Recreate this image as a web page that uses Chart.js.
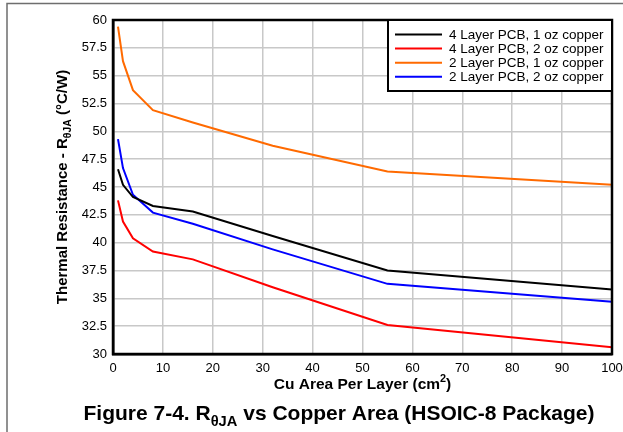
<!DOCTYPE html>
<html lang="en">
<head>
    <meta charset="UTF-8">
    <title>Thermal Resistance vs Copper Area</title>
    <script src="https://cdn.jsdelivr.net/npm/chart.js"></script>
    <style>
        html, body {
            margin: 0;
            padding: 0;
            background: #fff;
        }
        #chartBox {
            position: relative;
            width: 623px;
            height: 432px;
        }
    </style>
</head>
<body>
    <div id="chartBox">
        <canvas id="rjaChart" width="623" height="432"></canvas>
    </div>

    <script>
        // copper area per layer (cm2)
        const cuArea = [1, 2, 4, 8, 16, 32, 55, 100];

        // thermal resistance (degC/W)
        const fourLayer1oz = [46.6, 45.2, 44.1, 43.3, 42.8, 40.6, 37.5, 35.8];
        const fourLayer2oz = [43.8, 41.9, 40.4, 39.2, 38.5, 36.0, 32.6, 30.6];
        const twoLayer1oz = [59.4, 56.3, 53.7, 51.9, 50.8, 48.7, 46.4, 45.2];
        const twoLayer2oz = [49.3, 46.7, 44.3, 42.7, 41.7, 39.4, 36.3, 34.7];

        const seriesNames = [
            '4 Layer PCB, 1 oz copper',
            '4 Layer PCB, 2 oz copper',
            '2 Layer PCB, 1 oz copper',
            '2 Layer PCB, 2 oz copper'
        ];
        const seriesColors = ['#000000', '#ff0000', '#ff6a00', '#0000ff'];

        const FONT = '"Liberation Sans", Arial, Helvetica, sans-serif';

        function toPoints(values) {
            return cuArea.map((x, i) => ({ x: x, y: values[i] }));
        }

        // draws text with sub/superscript parts, centred on x
        function drawRich(ctx, parts, x, y, size) {
            let total = 0;
            parts.forEach(p => {
                const s = p.sub || p.sup ? size * 0.7 : size;
                ctx.font = 'bold ' + s + 'px ' + FONT;
                p.w = ctx.measureText(p.t).width;
                p.s = s;
                total += p.w;
            });
            let cx = x - total / 2;
            ctx.textAlign = 'left';
            ctx.textBaseline = 'alphabetic';
            parts.forEach(p => {
                ctx.font = 'bold ' + p.s + 'px ' + FONT;
                let dy = 0;
                if (p.sub) dy = size * 0.28;
                if (p.sup) dy = -size * 0.42;
                ctx.fillText(p.t, cx, y + dy);
                cx += p.w;
            });
        }

        const figurePlugin = {
            id: 'figurePlugin',
            beforeDraw(chart) {
                const ctx = chart.ctx;
                ctx.save();
                ctx.fillStyle = '#fff';
                ctx.fillRect(0, 0, chart.width, chart.height);
                // outer frame of the figure
                ctx.strokeStyle = '#6e6e6e';
                ctx.lineWidth = 1.5;
                ctx.beginPath();
                ctx.moveTo(7, chart.height + 2);
                ctx.lineTo(7, 3.5);
                ctx.lineTo(chart.width + 2, 3.5);
                ctx.stroke();
                ctx.restore();
            },
            afterDraw(chart) {
                const ctx = chart.ctx;
                const area = chart.chartArea;
                ctx.save();

                // plot border
                ctx.strokeStyle = '#000';
                ctx.lineWidth = 2.5;
                ctx.strokeRect(area.left, area.top, area.right - area.left, area.bottom - area.top);

                // legend box in the top right corner
                const lx = 388, ly = area.top;
                const lw = area.right - lx, lh = 71;
                ctx.fillStyle = '#fff';
                ctx.fillRect(lx, ly, lw, lh);
                ctx.lineWidth = 2;
                ctx.strokeRect(lx, ly, lw, lh);
                ctx.font = '13.5px ' + FONT;
                ctx.textAlign = 'left';
                ctx.textBaseline = 'middle';
                chart.data.datasets.forEach((ds, i) => {
                    const yy = ly + 14.5 + i * 14.1;
                    ctx.strokeStyle = ds.borderColor;
                    ctx.lineWidth = 2;
                    ctx.beginPath();
                    ctx.moveTo(395, yy);
                    ctx.lineTo(442, yy);
                    ctx.stroke();
                    ctx.fillStyle = '#000';
                    ctx.fillText(ds.label, 449, yy + 0.5);
                });

                ctx.fillStyle = '#000';
                // x axis title
                drawRich(ctx, [
                    { t: 'Cu Area Per Layer (cm' },
                    { t: '2', sup: true },
                    { t: ')' }
                ], (area.left + area.right) / 2, 389, 15.5);

                // y axis title
                ctx.save();
                ctx.translate(67, (area.top + area.bottom) / 2);
                ctx.rotate(-Math.PI / 2);
                drawRich(ctx, [
                    { t: 'Thermal Resistance - R' },
                    { t: '\u03B8JA', sub: true },
                    { t: ' (\u00B0C/W)' }
                ], 0, 0, 15);
                ctx.restore();

                // figure caption
                drawRich(ctx, [
                    { t: 'Figure 7-4. R' },
                    { t: '\u03B8JA', sub: true },
                    { t: ' vs Copper Area (HSOIC-8 Package)' }
                ], 339, 420, 21);

                ctx.restore();
            }
        };

        const ctx = document.getElementById('rjaChart').getContext('2d');
        const chart = new Chart(ctx, {
            type: 'line',
            data: {
                datasets: [fourLayer1oz, fourLayer2oz, twoLayer1oz, twoLayer2oz].map((vals, i) => ({
                    label: seriesNames[i],
                    data: toPoints(vals),
                    borderColor: seriesColors[i],
                    backgroundColor: seriesColors[i],
                    borderWidth: 2,
                    pointRadius: 0,
                    tension: 0,
                    fill: false
                }))
            },
            options: {
                responsive: false,
                animation: false,
                layout: {
                    padding: { left: 0, top: 20, right: 11, bottom: 0 }
                },
                plugins: {
                    legend: { display: false },
                    tooltip: { enabled: false }
                },
                scales: {
                    x: {
                        type: 'linear',
                        min: 0,
                        max: 100,
                        ticks: {
                            stepSize: 10,
                            color: '#000',
                            padding: 7,
                            maxRotation: 0,
                            font: { family: FONT, size: 13 }
                        },
                        grid: {
                            color: '#c8c8c8',
                            lineWidth: 1.5,
                            drawTicks: false
                        },
                        border: { color: '#000', width: 2.5 },
                        afterFit(scale) {
                            scale.height = 78;
                            scale.paddingLeft = 0;
                            scale.paddingRight = 0;
                        }
                    },
                    y: {
                        min: 30,
                        max: 60,
                        ticks: {
                            stepSize: 2.5,
                            color: '#000',
                            padding: 6,
                            font: { family: FONT, size: 13 },
                            callback: v => String(v)
                        },
                        grid: {
                            color: '#c8c8c8',
                            lineWidth: 1.5,
                            drawTicks: false
                        },
                        border: { color: '#000', width: 2.5 },
                        afterFit(scale) {
                            scale.width = 113;
                            scale.paddingTop = 0;
                            scale.paddingBottom = 0;
                        }
                    }
                }
            },
            plugins: [figurePlugin]
        });
    </script>
</body>
</html>
